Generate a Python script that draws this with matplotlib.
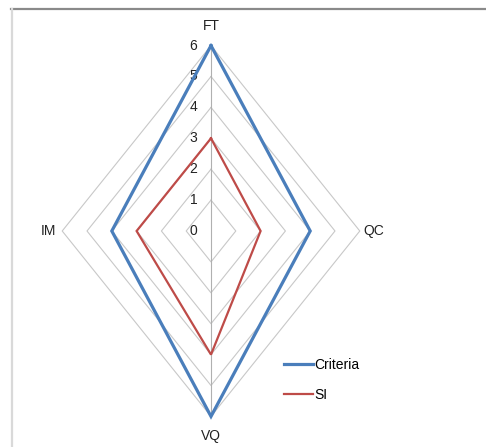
import matplotlib
matplotlib.use("Agg")
import matplotlib.pyplot as plt
from matplotlib.lines import Line2D
import numpy as np

# radar data (clockwise from top)
categories = ["FT", "QC", "VQ", "IM"]
criteria = [6, 4, 6, 4]
si = [3, 2, 4, 3]
ticks = [0, 1, 2, 3, 4, 5, 6]

plt.rcParams["font.family"] = ["Liberation Sans Narrow", "Liberation Sans", "DejaVu Sans"]

W, H = 486, 447
fig = plt.figure(figsize=(W / 100, H / 100), dpi=100)
ax = fig.add_axes([0, 0, 1, 1])

# chart is stretched: pixels per unit in x and y
cx, cy = 211, 231
sx, sy = 24.8, 30.9
ax.set_xlim(-cx / sx, (W - cx) / sx)
ax.set_ylim(-(H - cy) / sy, cy / sy)
ax.axis("off")

angles = np.pi / 2 - np.arange(len(categories)) * 2 * np.pi / len(categories)


def to_xy(vals):
    v = np.asarray(vals, dtype=float)
    x = v * np.cos(angles)
    y = v * np.sin(angles)
    return np.append(x, x[0]), np.append(y, y[0])


# gridlines
rmax = ticks[-1]
for t in ticks[1:]:
    gx, gy = to_xy([t] * len(categories))
    ax.plot(gx, gy, color="#c8c8c8", lw=0.8, zorder=1)
ax.plot([0, 0], [-rmax, rmax], color="#b0b0b0", lw=0.8, zorder=1)

fs = 10

# tick labels on the vertical axis
for t in ticks:
    ax.text(-0.55, t, str(t), ha="right", va="center", fontsize=fs, color="#222222")

# category labels
for cat, a in zip(categories, angles):
    dx = np.cos(a)
    dy = np.sin(a)
    if abs(dx) > 0.5:
        ax.text((rmax + 0.55) * dx, 0, cat, ha="center", va="center", fontsize=fs, color="#222222")
    else:
        ax.text(0, (rmax + 0.65) * dy, cat, ha="center", va="center", fontsize=fs, color="#222222")

bx, by = to_xy(criteria)
ax.plot(bx, by, color="#4a7ebb", lw=2.3, label="Criteria", zorder=3,
        solid_joinstyle="miter")
rx, ry = to_xy(si)
ax.plot(rx, ry, color="#be4b48", lw=1.6, label="SI", zorder=4,
        solid_joinstyle="miter")

leg = ax.legend(loc="upper left", bbox_to_anchor=(284 / W, 1 - 358 / H),
                bbox_transform=fig.transFigure, frameon=False, fontsize=fs,
                handlelength=2.1, handletextpad=0.05, labelspacing=1.15,
                borderpad=0, borderaxespad=0)

# chart area border (top and left edges visible)
fig.add_artist(Line2D([11 / W, 1], [1 - 8.5 / H] * 2, transform=fig.transFigure,
                      color="#8a8a8a", lw=1.6))
fig.add_artist(Line2D([11.5 / W] * 2, [0, 1 - 8.5 / H], transform=fig.transFigure,
                      color="#d9d9d9", lw=1.6))

fig.savefig("out.png", dpi=100)
